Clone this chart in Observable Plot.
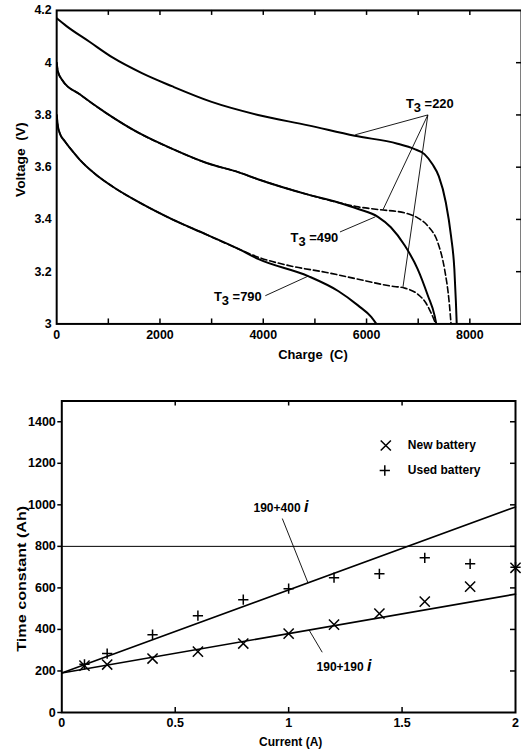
<!DOCTYPE html>
<html><head><meta charset="utf-8">
<script src="https://cdn.jsdelivr.net/npm/d3@7"></script>
<script src="https://cdn.jsdelivr.net/npm/@observablehq/plot@0.6"></script>
<style>
html,body{margin:0;padding:0;background:#fff;overflow:hidden;width:521px;height:750px}
#c1,#c2{position:absolute;left:0}
#c1{top:0}
#c2{top:380px}
svg{display:block}
</style></head>
<body><div id="c1"></div><div id="c2"></div>
<script>
// ---------- Top chart: discharge curves ----------
const chargeT220a = [0, 190, 635, 1080, 1650, 2230, 3000, 3900, 4870, 5770, 6600, 6920, 7120, 7280, 7400, 7535, 7636, 7700, 7730, 7746];
const voltT220a   = [4.17, 4.14, 4.08, 4.02, 3.96, 3.91, 3.85, 3.80, 3.76, 3.72, 3.69, 3.67, 3.65, 3.61, 3.565, 3.465, 3.336, 3.21, 3.084, 3.0];

const chargeT490 = [0, 25, 120, 440, 960, 1600, 2240, 2890, 3530, 3910, 4870, 5450, 5840, 6220, 6470, 6740, 6990, 7190, 7320, 7350];
const voltT490   = [4.0, 3.965, 3.93, 3.88, 3.807, 3.73, 3.67, 3.617, 3.58, 3.553, 3.495, 3.465, 3.44, 3.41, 3.37, 3.30, 3.21, 3.107, 3.03, 3.0];

const chargeT220b = [0, 25, 120, 440, 960, 1600, 2240, 2890, 3530, 3910, 4870, 5450, 5840, 6220, 6740, 6990, 7190, 7380, 7510, 7600, 7636];
const voltT220b   = [4.0, 3.965, 3.93, 3.88, 3.807, 3.73, 3.67, 3.617, 3.58, 3.553, 3.495, 3.465, 3.448, 3.438, 3.425, 3.406, 3.374, 3.311, 3.21, 3.083, 3.0];

const chargeT790 = [0, 25, 60, 154, 283, 440, 770, 1080, 1600, 2240, 2890, 3530, 3910, 4870, 5450, 5840, 6090, 6190];
const voltT790   = [3.8, 3.755, 3.73, 3.70, 3.667, 3.63, 3.57, 3.526, 3.465, 3.40, 3.343, 3.286, 3.248, 3.183, 3.126, 3.07, 3.027, 3.0];

const chargeT220c = [0, 25, 60, 154, 283, 440, 770, 1080, 1600, 2240, 2890, 3530, 3910, 4550, 5200, 5840, 6470, 6740, 6990, 7150, 7240, 7340];
const voltT220c   = [3.8, 3.755, 3.73, 3.70, 3.667, 3.63, 3.57, 3.526, 3.465, 3.40, 3.343, 3.286, 3.255, 3.221, 3.198, 3.171, 3.145, 3.137, 3.114, 3.08, 3.046, 3.0];

const voltTicks = [3, 3.2, 3.4, 3.6, 3.8, 4, 4.2];
const voltMinorTicks = [3.2, 3.4, 3.6, 3.8, 4];
const chargeTicks = [0, 2000, 4000, 6000, 8000];
const chargeMinorTicks = [1000, 2000, 3000, 4000, 5000, 6000, 7000, 8000];

const topLabels = [
  {text: "T3 =220", q: 7225, v: 3.842},
  {text: "T3 =490", q: 4990, v: 3.328},
  {text: "T3 =790", q: 3507, v: 3.103}
];
const topPointers = [
  {q1: 7187, v1: 3.80, q2: 5780, v2: 3.724},
  {q1: 7187, v1: 3.80, q2: 6320, v2: 3.438},
  {q1: 7187, v1: 3.80, q2: 6705, v2: 3.141},
  {q1: 5485, v1: 3.352, q2: 6170, v2: 3.41},
  {q1: 4040, v1: 3.108, q2: 4870, v2: 3.183}
];

// ---------- Bottom chart: time constant ----------
const current = [0.1, 0.2, 0.4, 0.6, 0.8, 1.0, 1.2, 1.4, 1.6, 1.8, 2.0];
const newBattery  = [226, 231, 260, 293, 332, 380, 423, 476, 534, 606, 697];
const usedBattery = [232, 284, 375, 466, 543, 596, 649, 668, 745, 716, 700];
const fitCurrent = [0, 2];
const fit400 = [190, 990];
const fit190 = [190, 570];
const refLevel = [800];
const currentTicks = [0, 0.5, 1, 1.5, 2];
const currentMinorTicks = [0.5, 1, 1.5];
const tcTicks = [0, 200, 400, 600, 800, 1000, 1200, 1400];
const tcMinorTicks = [200, 400, 600, 800, 1000, 1200, 1400];
const legendItems = [
  {label: "New battery", symbol: "times"},
  {label: "Used battery", symbol: "plus"}
];
const botLabels = [
  {text: "190+400 i", i: 0.966, t: 982},
  {text: "190+190 i", i: 1.244, t: 217}
];
const botPointers = [
  {i1: 0.972, t1: 934, i2: 1.085, t2: 625},
  {i1: 1.148, t1: 290, i2: 1.09, t2: 397}
];

const FONT = "'Liberation Sans', Arial, Helvetica, sans-serif";
const rows = (xs, ys, kx, ky) => xs.map((x, i) => ({[kx]: x, [ky]: ys[i]}));

// ---------- Top plot ----------
const W1 = 524, H1 = 380, mL1 = 56.5, mT1 = 10, mB1 = 380 - 325.3, mR1 = 0;
const fh1 = H1 - mT1 - mB1, fw1 = W1 - mL1 - mR1;
const solid = {x: "q", y: "v", stroke: "black", strokeWidth: 2, curve: "monotone-x", clip: true};
const dashed = {x: "q", y: "v", stroke: "black", strokeWidth: 1.6, strokeDasharray: "6,3", curve: "monotone-x", clip: true};
const plotTop = Plot.plot({
  width: W1, height: H1,
  marginLeft: mL1, marginTop: mT1, marginBottom: mB1, marginRight: mR1,
  style: {fontFamily: FONT, fontSize: "12.5px", fontWeight: "bold", color: "black", background: "white"},
  x: {domain: [0, 9000]},
  y: {domain: [3, 4.2]},
  marks: [
    Plot.line(rows(chargeT220b, voltT220b, "q", "v"), dashed),
    Plot.line(rows(chargeT220c, voltT220c, "q", "v"), dashed),
    Plot.line(rows(chargeT220a, voltT220a, "q", "v"), solid),
    Plot.line(rows(chargeT490, voltT490, "q", "v"), solid),
    Plot.line(rows(chargeT790, voltT790, "q", "v"), solid),
    Plot.link(topPointers, {x1: "q1", y1: "v1", x2: "q2", y2: "v2", stroke: "black", strokeWidth: 0.9}),
    Plot.text(topLabels, {x: "q", y: "v", text: "text", fontSize: 13, fill: "black", textAnchor: "middle", lineAnchor: "middle"}),
    Plot.tickX(chargeMinorTicks, {x: d => d, insetTop: fh1 - 5, stroke: "black", strokeWidth: 1.5}),
    Plot.tickX(chargeMinorTicks, {x: d => d, insetBottom: fh1 - 5, stroke: "black", strokeWidth: 1.5}),
    Plot.tickY(voltMinorTicks, {y: d => d, insetLeft: fw1 - 5, stroke: "black", strokeWidth: 1.5}),
    Plot.axisY({ticks: voltTicks, tickSize: 0, tickPadding: 5, tickFormat: d => String(d), label: null, fontSize: 12.5}),
    Plot.axisX({ticks: chargeTicks, tickSize: 0, tickPadding: 6, tickFormat: d => String(d), label: null, fontSize: 12.5}),
    Plot.frame({stroke: "black", strokeWidth: 2}),
    Plot.text(["Charge  (C)"], {frameAnchor: "bottom", dx: 24, dy: 31, fontSize: 13, textAnchor: "middle", lineAnchor: "middle", fill: "black"}),
    Plot.text(["Voltage  (V)"], {frameAnchor: "left", dx: -35.5, dy: -7.5, rotate: -90, fontSize: 12.5, textAnchor: "middle", lineAnchor: "middle", fill: "black"})
  ]
});
document.getElementById("c1").appendChild(plotTop);

// ---------- Bottom plot ----------
const W2 = 521, H2 = 370, mL2 = 61.3, mT2 = 20.5, mB2 = 370 - 332, mR2 = 6;
const fh2 = H2 - mT2 - mB2, fw2 = W2 - mL2 - mR2;
const plotBot = Plot.plot({
  width: W2, height: H2,
  marginLeft: mL2, marginTop: mT2, marginBottom: mB2, marginRight: mR2,
  style: {fontFamily: FONT, fontSize: "12.5px", fontWeight: "bold", color: "black", background: "white"},
  x: {domain: [0, 2]},
  y: {domain: [0, 1500]},
  marks: [
    Plot.ruleY(refLevel, {stroke: "black", strokeWidth: 1}),
    Plot.line(rows(fitCurrent, fit400, "i", "t"), {x: "i", y: "t", stroke: "black", strokeWidth: 1.6}),
    Plot.line(rows(fitCurrent, fit190, "i", "t"), {x: "i", y: "t", stroke: "black", strokeWidth: 1.6}),
    Plot.dot(rows(current, newBattery, "i", "t"), {x: "i", y: "t", symbol: "times", r: 4.7, stroke: "black", fill: "none", strokeWidth: 1.5}),
    Plot.dot(rows(current, usedBattery, "i", "t"), {x: "i", y: "t", symbol: "plus", r: 3.4, stroke: "black", fill: "none", strokeWidth: 1.5}),
    Plot.link(botPointers, {x1: "i1", y1: "t1", x2: "i2", y2: "t2", stroke: "black", strokeWidth: 0.9}),
    Plot.text(botLabels, {x: "i", y: "t", text: "text", fontSize: 12, fill: "black", textAnchor: "middle", lineAnchor: "middle"}),
    Plot.dot(legendItems.slice(0, 1), {frameAnchor: "top-left", dx: 324, dy: 44.5, symbol: d => d.symbol, r: 4.7, stroke: "black", fill: "none", strokeWidth: 1.5}),
    Plot.dot(legendItems.slice(1, 2), {frameAnchor: "top-left", dx: 323, dy: 69.5, symbol: d => d.symbol, r: 3.4, stroke: "black", fill: "none", strokeWidth: 1.5}),
    Plot.text(legendItems.slice(0, 1), {frameAnchor: "top-left", dx: 346, dy: 44.5, text: "label", textAnchor: "start", lineAnchor: "middle", fontSize: 12, fill: "black"}),
    Plot.text(legendItems.slice(1, 2), {frameAnchor: "top-left", dx: 346, dy: 69.5, text: "label", textAnchor: "start", lineAnchor: "middle", fontSize: 12, fill: "black"}),
    Plot.tickX(currentMinorTicks, {x: d => d, insetTop: fh2 - 5, stroke: "black", strokeWidth: 1.5}),
    Plot.tickX(currentMinorTicks, {x: d => d, insetBottom: fh2 - 5, stroke: "black", strokeWidth: 1.5}),
    Plot.tickY(tcMinorTicks, {y: d => d, insetLeft: fw2 - 5, stroke: "black", strokeWidth: 1.5}),
    Plot.axisY({ticks: tcTicks, tickSize: 4, tickPadding: 2, tickFormat: d => String(d), label: null, fontSize: 12.5, strokeWidth: 1.5}),
    Plot.axisX({ticks: currentTicks, tickSize: 0, tickPadding: 6, tickFormat: d => String(d), label: null, fontSize: 12.5}),
    Plot.frame({stroke: "black", strokeWidth: 2}),
    Plot.text(["Current (A)"], {frameAnchor: "bottom", dx: 2, dy: 30, fontSize: 12, textAnchor: "middle", lineAnchor: "middle", fill: "black"}),
    Plot.text(["Time constant (Ah)"], {frameAnchor: "left", dx: -39.5, dy: 22, rotate: -90, fontSize: 12.5, textAnchor: "middle", lineAnchor: "middle", fill: "black"})
  ]
});
document.getElementById("c2").appendChild(plotBot);

// ---------- text post-processing: subscripts, italic variable, label stretch ----------
const stretchTo = {"Voltage  (V)": 75, "Time constant (Ah)": 146};
for (const svg of [plotTop, plotBot]) {
  d3.select(svg).selectAll("text").each(function () {
    if (this.querySelector("tspan")) return;
    const t = this.textContent;
    if (stretchTo[t]) {
      this.setAttribute("textLength", stretchTo[t]);
      this.setAttribute("lengthAdjust", "spacingAndGlyphs");
      return;
    }
    let m = /^T3 (=\d+)$/.exec(t);
    if (m) {
      const s = d3.select(this).text(null);
      s.append("tspan").text("T");
      s.append("tspan").attr("dy", "0.28em").text("3");
      s.append("tspan").attr("dy", "-0.28em").text(" " + m[1]);
      return;
    }
    m = /^(\d+\+\d+) i$/.exec(t);
    if (m) {
      const s = d3.select(this).text(null);
      s.append("tspan").text(m[1] + " ");
      s.append("tspan").attr("font-style", "italic").attr("font-size", 16).text("i");
    }
  });
}
</script>
</body></html>
